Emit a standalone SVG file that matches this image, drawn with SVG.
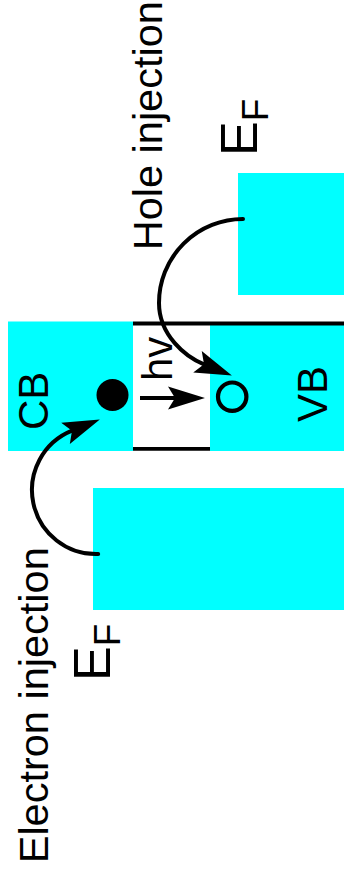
<svg xmlns="http://www.w3.org/2000/svg" width="344" height="872" viewBox="0 0 344 872">
<style>
.band{fill:#00FFFF;stroke:none}
.edge{stroke:#000;stroke-width:3.8;fill:none}
.lbl{font-family:"Liberation Sans",Arial,sans-serif;fill:#000}
.conn{stroke:#000;stroke-width:4;fill:none;stroke-linecap:round}
</style>
<defs>
<marker id="ah" markerUnits="userSpaceOnUse" viewBox="0 -13 40 26" markerWidth="40" markerHeight="26" refX="7" refY="0" orient="auto" overflow="visible">
<path d="M0,-11.5 L37,0 L0,11.5 L7,0 Z" fill="#000"/>
</marker>
</defs>
<rect width="344" height="872" fill="#fff"/>
<g id="metal-right">
<rect class="band" x="238" y="173" width="106" height="122"/>
</g>
<g id="metal-left">
<rect class="band" x="93" y="488" width="251" height="122"/>
</g>
<g id="cb">
<rect class="band" x="8" y="321.5" width="125" height="129.5"/>
<text class="lbl" font-size="42" transform="translate(48,430) rotate(-90)">CB</text>
</g>
<g id="vb">
<rect class="band" x="210" y="322" width="134" height="129"/>
<text class="lbl" font-size="42" transform="translate(326.5,422) rotate(-90)">VB</text>
</g>
<g id="gap">
<line class="edge" x1="133" y1="323.5" x2="344" y2="323.5"/>
<line class="edge" x1="133" y1="448.8" x2="210" y2="448.8"/>
</g>
<g id="electron">
<circle cx="112.5" cy="395" r="16" fill="#000"/>
</g>
<g id="hole">
<circle cx="232.2" cy="396.7" r="14.2" fill="none" stroke="#000" stroke-width="4.2"/>
</g>
<g id="photon">
<text class="lbl" font-size="42" transform="translate(172,381) rotate(-90)">hv</text>
</g>
<g id="ef-left">
<text class="lbl" font-size="52" transform="translate(110,681) rotate(-90)">E<tspan font-size="37" dy="10">F</tspan></text>
</g>
<g id="ef-right">
<text class="lbl" font-size="52" transform="translate(257,156) rotate(-90)">E<tspan font-size="37" dy="11">F</tspan></text>
</g>
<g id="label-electron">
<text class="lbl" font-size="41.5" transform="translate(47.5,863.3) rotate(-90)">Electron injection</text>
</g>
<g id="label-hole">
<text class="lbl" font-size="41.5" transform="translate(162,250.3) rotate(-90)">Hole injection</text>
</g>
<g id="connectors">
<path class="conn" d="M140,398 L175,398" style="stroke-linecap:butt" marker-end="url(#ah)"/>
<path class="conn" d="M98.2,554 A64,64 0 0 1 72,430.7" marker-end="url(#ah)"/>
<path class="conn" d="M243,219 A84,84 0 0 0 159,303 C159,335 185.4,356.9 204,364.3" marker-end="url(#ah)"/>
</g>
</svg>
